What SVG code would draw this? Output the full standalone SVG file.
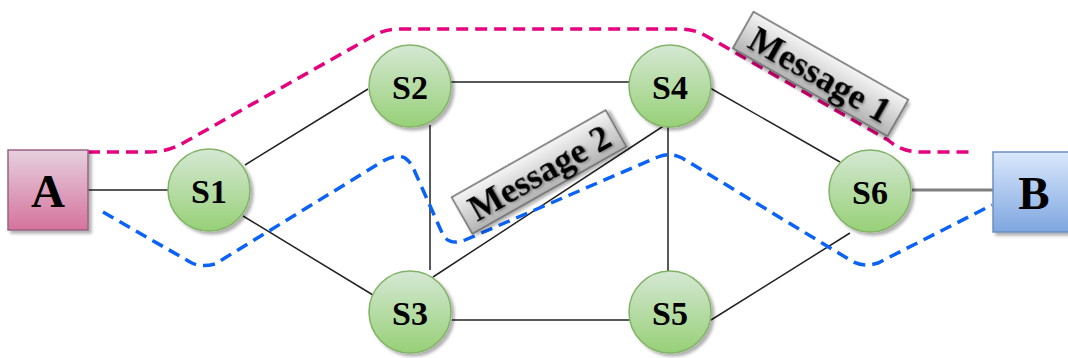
<svg xmlns="http://www.w3.org/2000/svg" width="1068" height="358" viewBox="0 0 1068 358">
<style>
.node circle{fill:url(#gGreen);stroke:#82b366;stroke-width:1.5;filter:url(#sh)}
.lbl{font-family:"Liberation Serif","Times New Roman",serif;font-weight:bold;font-style:normal;fill:#000;text-anchor:middle;dominant-baseline:central}
.ns{font-size:34px}
.big{font-size:47px}
.msg{font-size:36px;filter:url(#tsh)}
.edge{stroke:#222;stroke-width:1.5;fill:none}
.dash{fill:none;stroke-width:3.5;stroke-dasharray:12 7}
.mbox{fill:url(#gGray);stroke:#666;stroke-width:1.5;filter:url(#sh)}
</style>
<defs>
<linearGradient id="gGreen" x1="0" y1="0" x2="0" y2="1"><stop offset="0" stop-color="#d5e8d4"/><stop offset="1" stop-color="#97d077"/></linearGradient>
<linearGradient id="gPink" x1="0" y1="0" x2="0" y2="1"><stop offset="0" stop-color="#e6d0de"/><stop offset="1" stop-color="#d5739d"/></linearGradient>
<linearGradient id="gBlue" x1="0" y1="0" x2="0" y2="1"><stop offset="0" stop-color="#dae8fc"/><stop offset="1" stop-color="#7ea6e0"/></linearGradient>
<linearGradient id="gGray" x1="0" y1="0" x2="0" y2="1"><stop offset="0" stop-color="#f5f5f5"/><stop offset="1" stop-color="#b3b3b3"/></linearGradient>
<filter id="sh" x="-20%" y="-20%" width="150%" height="150%"><feDropShadow dx="3" dy="3" stdDeviation="1.5" flood-color="#000" flood-opacity="0.3"/></filter>
<filter id="tsh" x="-20%" y="-40%" width="150%" height="200%"><feDropShadow dx="1.5" dy="1.5" stdDeviation="1" flood-color="#000" flood-opacity="0.35"/></filter>
</defs>
<g id="connectors">
<line class="edge" x1="88" y1="190" x2="168" y2="190"/>
<line class="edge" x1="245" y1="165" x2="368" y2="89"/>
<line class="edge" x1="243" y1="216" x2="373" y2="295"/>
<line class="edge" x1="451" y1="82" x2="629" y2="82"/>
<line class="edge" x1="430" y1="125" x2="430" y2="270"/>
<line class="edge" x1="433" y1="277" x2="665" y2="125"/>
<line class="edge" x1="668" y1="127" x2="668" y2="272"/>
<line class="edge" x1="452" y1="320" x2="630" y2="320"/>
<line class="edge" x1="710" y1="88" x2="840" y2="162"/>
<line class="edge" x1="711" y1="320" x2="850" y2="233"/>
<line x1="912" y1="190" x2="993" y2="190" stroke="#808080" stroke-width="3"/>
</g>
<g id="paths">
<path class="dash" stroke="#e5007d" d="M88,152 H150 Q168,152 185,142 L375,35 Q385,29 400,29 H680 Q695,29 708,37 L888,140 Q902,152 920,152 H970"/>
<path class="dash" stroke="#0b62f7" d="M103,212 L190,262 Q200,268 215,264 L380,163 Q395,153 405,158 Q412,163 415,172 L443,235 Q450,246 465,240 L658,157 Q670,152 682,158 L850,260 Q862,268 878,263 L992,205"/>
</g>
<g id="A"><rect x="8" y="150" width="80" height="80" fill="url(#gPink)" stroke="#996185" stroke-width="1.5" filter="url(#sh)"/><text class="lbl big" x="48" y="191">A</text></g>
<g id="B"><rect x="993" y="152" width="80" height="80" fill="url(#gBlue)" stroke="#6c8ebf" stroke-width="1.5" filter="url(#sh)"/><text class="lbl big" x="1034" y="193">B</text></g>
<g id="S1" class="node"><circle cx="209" cy="190" r="41"/><text class="lbl ns" x="209" y="191">S1</text></g>
<g id="S2" class="node"><circle cx="410" cy="86" r="41"/><text class="lbl ns" x="410" y="87">S2</text></g>
<g id="S3" class="node"><circle cx="410" cy="312" r="41"/><text class="lbl ns" x="410" y="313">S3</text></g>
<g id="S4" class="node"><circle cx="670" cy="86" r="41"/><text class="lbl ns" x="670" y="87">S4</text></g>
<g id="S5" class="node"><circle cx="670" cy="312" r="41"/><text class="lbl ns" x="670" y="313">S5</text></g>
<g id="S6" class="node"><circle cx="870" cy="191" r="41"/><text class="lbl ns" x="870" y="192">S6</text></g>
<g id="msg1" transform="translate(820.5,74) rotate(29.6)"><rect class="mbox" x="-89" y="-21" width="178" height="42"/><text class="lbl msg" x="0" y="1">Message 1</text></g>
<g id="msg2" transform="translate(539,172) rotate(-29.5)"><rect class="mbox" x="-88.5" y="-21" width="177" height="42"/><text class="lbl msg" x="0" y="1">Message 2</text></g>
</svg>
